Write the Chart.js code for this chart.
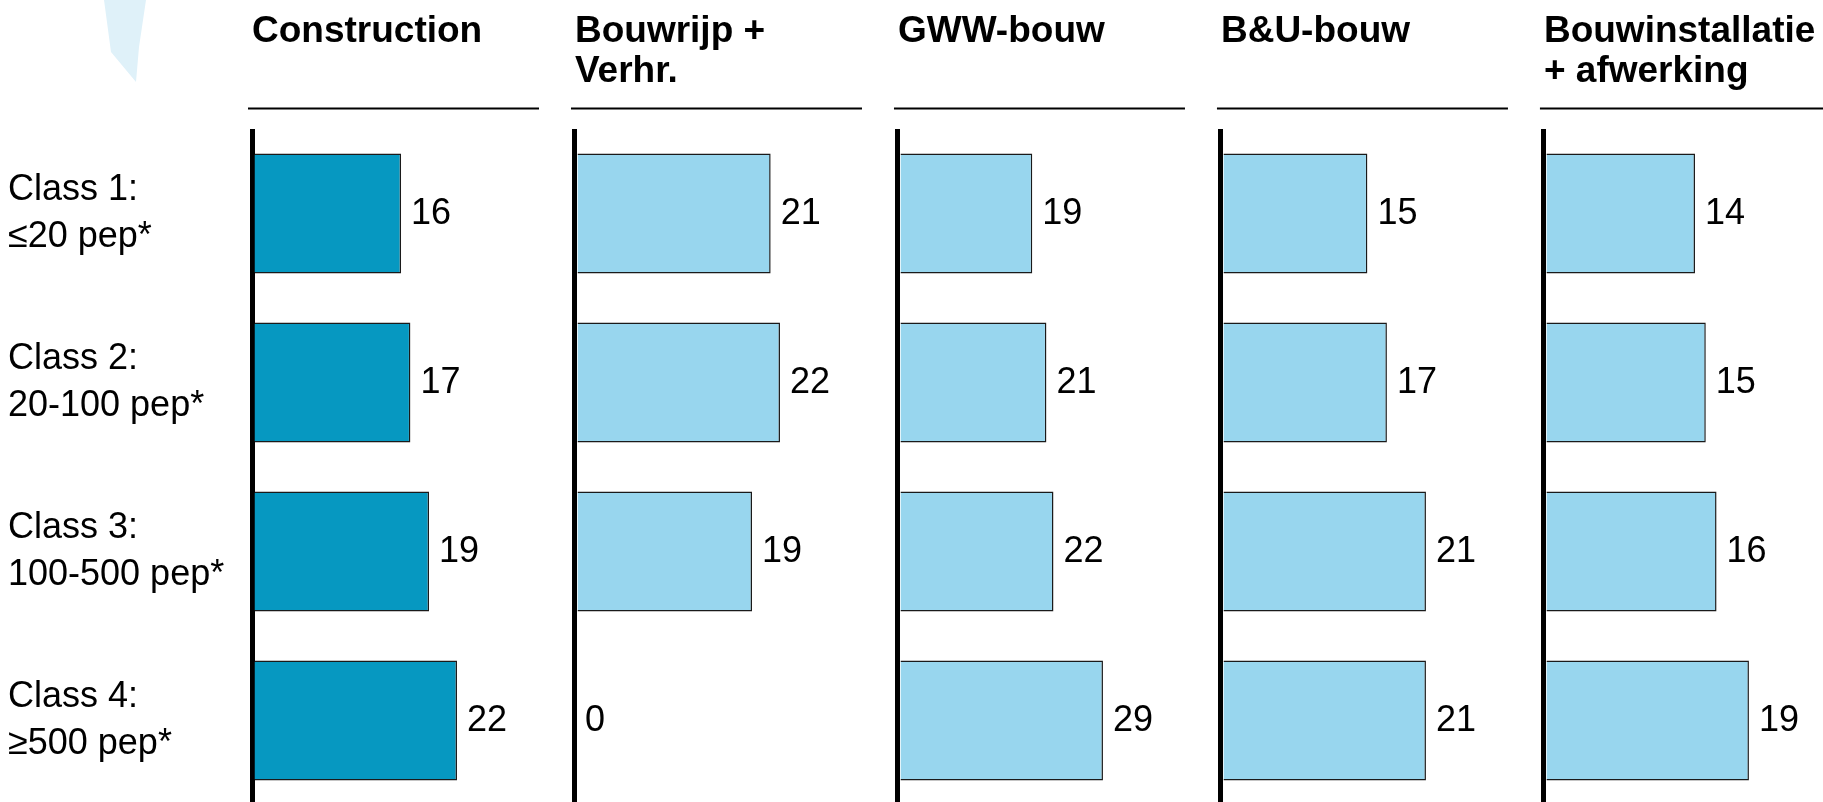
<!DOCTYPE html>
<html>
<head>
<meta charset="utf-8">
<script src="https://cdn.jsdelivr.net/npm/chart.js@4"></script>
<style>
  html, body { margin: 0; padding: 0; background: #fff; overflow: hidden; }
  #wrap { position: relative; width: 1823px; height: 805px; }
</style>
</head>
<body>
<div id="wrap"><canvas id="myChart"></canvas></div>
<script>
// size classes (rows) and sector panels (columns)
const classLabels = [
  ['Class 1:', '≤20 pep*'],
  ['Class 2:', '20-100 pep*'],
  ['Class 3:', '100-500 pep*'],
  ['Class 4:', '≥500 pep*']
];
const sectorTitles = [
  ['Construction'],
  ['Bouwrijp +', 'Verhr.'],
  ['GWW-bouw'],
  ['B&U-bouw'],
  ['Bouwinstallatie', '+ afwerking']
];
const construction = [16, 17, 19, 22];
const bouwrijp = [21, 22, 19, 0];
const gww = [19, 21, 22, 29];
const buBouw = [15, 17, 21, 21];
const installatie = [14, 15, 16, 19];

const panelValues = [construction, bouwrijp, gww, buBouw, installatie];
const panelColors = ['#0698c1', '#98d6ee', '#98d6ee', '#98d6ee', '#98d6ee'];
// last panel runs off the page, so it gets less room
const panelWeights = [1, 1, 1, 1, 0.864];

const FONT = '"Liberation Sans", Arial, sans-serif';
const PANEL_W = 323;      // px per unit weight
const LONGEST_BAR = 205;  // px used by the largest bar in each panel

const datasets = panelValues.map((vals, i) => ({
  label: sectorTitles[i].join(' '),
  data: vals,
  xAxisID: 'x' + i,
  backgroundColor: panelColors[i],
  borderColor: '#1a1a1a',
  borderWidth: 1.5,
  barPercentage: 0.71,
  categoryPercentage: 1
}));

const scales = {
  y: {
    position: 'left',
    grid: { display: false },
    border: { display: false },
    ticks: {
      color: '#000',
      font: { family: FONT, size: 36, lineHeight: 1.3 },
      crossAlign: 'far',
      padding: 0
    },
    afterFit: scale => {
      scale.width = 244;
      // labels sit inside their bands, no extra room needed above/below
      scale.paddingTop = 0;
      scale.paddingBottom = 0;
    }
  }
};
// top axes in one stack are laid out last-registered first, so add them in reverse
for (let i = panelValues.length - 1; i >= 0; i--) {
  const vals = panelValues[i];
  scales['x' + i] = {
    type: 'linear',
    position: 'top',
    stack: 'panels',
    stackWeight: panelWeights[i],
    min: 0,
    max: Math.max(...vals) * PANEL_W * panelWeights[i] / LONGEST_BAR,
    z: 1,
    ticks: { display: false },
    border: { display: false },
    grid: {
      drawTicks: false,
      lineWidth: 5,
      color: ctx => (ctx.tick && ctx.tick.value === 0 ? '#000' : 'rgba(0,0,0,0)')
    },
    title: {
      display: true,
      text: sectorTitles[i],
      align: 'start',
      color: '#000',
      font: { family: FONT, size: 37, weight: 'bold', lineHeight: 1.08 },
      padding: { top: 11.5, bottom: 45.5 }
    }
  };
}

// pale shape in the top-left corner
const cornerShape = {
  id: 'cornerShape',
  beforeDraw(chart) {
    const c = chart.ctx;
    c.save();
    c.fillStyle = '#dff1f9';
    c.beginPath();
    c.moveTo(104, 0);
    c.lineTo(146, 0);
    c.lineTo(139, 47);
    c.lineTo(136, 82);
    c.lineTo(111, 52);
    c.closePath();
    c.fill();
    c.restore();
  }
};

// rule under each sector heading
const headingRules = {
  id: 'headingRules',
  afterDraw(chart) {
    const c = chart.ctx;
    const y = chart.chartArea.top - 20.5;
    c.save();
    c.strokeStyle = '#000';
    c.lineWidth = 2;
    panelValues.forEach((v, i) => {
      const s = chart.scales['x' + i];
      c.beginPath();
      c.moveTo(s.left - 4, y);
      c.lineTo(s.left + 287, y);
      c.stroke();
    });
    c.restore();
  }
};

// value printed to the right of every bar
const valueLabels = {
  id: 'valueLabels',
  afterDatasetsDraw(chart) {
    const c = chart.ctx;
    c.save();
    c.fillStyle = '#000';
    c.font = '36px ' + FONT;
    c.textAlign = 'left';
    c.textBaseline = 'middle';
    chart.data.datasets.forEach((ds, i) => {
      chart.getDatasetMeta(i).data.forEach((bar, j) => {
        c.fillText(String(ds.data[j]), bar.x + 10, bar.y + 1);
      });
    });
    c.restore();
  }
};

const ctx = document.getElementById('myChart').getContext('2d');
new Chart(ctx, {
  type: 'bar',
  data: { labels: classLabels, datasets: datasets },
  options: {
    indexAxis: 'y',
    responsive: true,
    maintainAspectRatio: false,
    animation: false,
    grouped: false,
    layout: { padding: { left: 8, top: 0, right: 0, bottom: 0 } },
    plugins: { legend: { display: false }, tooltip: { enabled: false } },
    scales: scales
  },
  plugins: [cornerShape, headingRules, valueLabels]
});
</script>
</body>
</html>
